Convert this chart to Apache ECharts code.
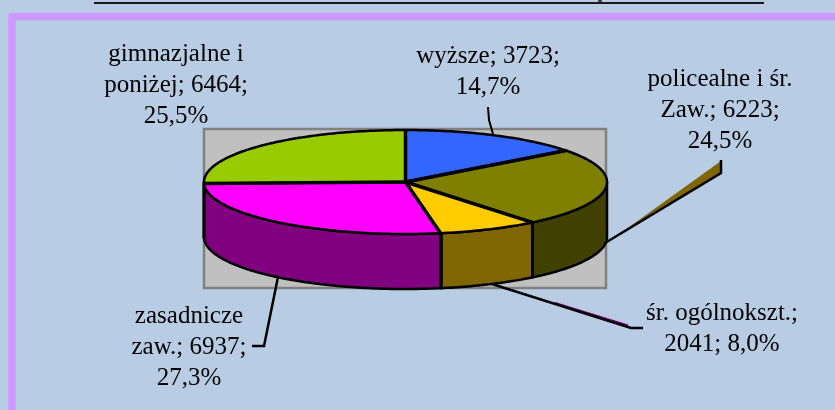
<!DOCTYPE html>
<html>
<head>
<meta charset="utf-8">
<title>wykształcenie</title>
<script src="https://cdn.jsdelivr.net/npm/echarts@6/dist/echarts.min.js"></script>
<style>
  html,body{margin:0;padding:0;background:#b8cce4;}
  #chart{width:835px;height:410px;}
</style>
</head>
<body>
<div id="chart"></div>
<script>
// dane
var categories = ['wyższe', 'policealne i śr.\nZaw.', 'śr. ogólnokszt.', 'zasadnicze\nzaw.', 'gimnazjalne i\nponiżej'];
var values = [3723, 6223, 2041, 6937, 6464];
var labelFormats = ['{n}; {v};\n{p}', '{n}; {v};\n{p}', '{n};\n{v}; {p}', '{n}; {v};\n{p}', '{n}; {v};\n{p}'];
var topColors = ['#3366ff', '#808000', '#ffcc00', '#ff00ff', '#99cc00'];
var sideColors = ['#1a3380', '#404000', '#806600', '#800080', '#4d6600'];

// uklad
var cx = 405.5, cy = 182, rx = 201.5, ry = 52, depth = 55;
var labelPos = [[488, 72], [720, 110], [722, 329], [189, 347], [176, 85]];
var font = '"Liberation Serif", serif';

var total = values.reduce(function (a, b) { return a + b; }, 0);
var cum = [0];
values.forEach(function (v, i) { cum.push(cum[i] + v / total * 360); });

function pt(deg, dy) {
  var a = deg * Math.PI / 180;
  return [cx + rx * Math.sin(a), cy - ry * Math.cos(a) + (dy || 0)];
}
function arc(from, to, dy) {
  var pts = [], n = Math.max(2, Math.ceil(Math.abs(to - from)));
  for (var i = 0; i <= n; i++) pts.push(pt(from + (to - from) * i / n, dy));
  return pts;
}
function labelText(i) {
  var pct = (values[i] / total * 100).toFixed(1).replace('.', ',') + '%';
  return labelFormats[i].replace('{n}', categories[i]).replace('{v}', values[i]).replace('{p}', pct);
}

var chart = echarts.init(document.getElementById('chart'));
chart.setOption({
  animation: false,
  backgroundColor: '#b8cce4',
  graphic: [
    // ramka
    { type: 'rect', z: 0, shape: { x: 12, y: 16.5, width: 1000, height: 600 }, style: { fill: 'none', stroke: '#cc99ff', lineWidth: 7.5, lineJoin: 'round' } },
    { type: 'line', z: 0, shape: { x1: 94, y1: 3, x2: 764, y2: 3 }, style: { stroke: '#1a1a1a', lineWidth: 2 } },
    { type: 'rect', z: 0, shape: { x: 598, y: 0, width: 4, height: 2 }, style: { fill: '#444' } },
    // tlo wykresu
    { type: 'rect', z: 0, shape: { x: 204, y: 129, width: 402, height: 159 }, style: { fill: '#c0c0c0', stroke: '#808080', lineWidth: 2.5 } },
    // linie odniesienia
    { type: 'polyline', z: 10, shape: { points: [[488, 107], [489, 120], [493, 134]] }, style: { stroke: '#000', lineWidth: 2, fill: 'none' } },
    { type: 'polygon', z: 10, shape: { points: [[721, 161], [721, 172], [606, 242], [625, 230]] }, style: { fill: '#806600' } },
    { type: 'polyline', z: 10, shape: { points: [[721, 160], [721, 173], [605, 243]] }, style: { stroke: '#000', lineWidth: 2.5, fill: 'none' } },
    { type: 'polyline', z: 10, shape: { points: [[555, 303], [628, 325.5]] }, style: { stroke: '#800080', lineWidth: 2, fill: 'none' } },
    { type: 'polyline', z: 10, shape: { points: [[492, 284], [631, 328], [643, 328]] }, style: { stroke: '#000', lineWidth: 2.5, fill: 'none' } },
    { type: 'polyline', z: 10, shape: { points: [[278, 277], [264, 346], [252, 346]] }, style: { stroke: '#000', lineWidth: 2.5, fill: 'none' } }
  ],
  series: [
    {
      // sciany boczne
      type: 'custom',
      coordinateSystem: 'none',
      z: 2,
      clip: false,
      data: values,
      renderItem: function (params) {
        var i = params.dataIndex;
        var a = Math.max(cum[i], 90), b = Math.min(cum[i + 1], 270);
        if (b <= a) return null;
        var pts = arc(a, b, 0).concat(arc(b, a, depth));
        var kids = [{ type: 'polygon', shape: { points: pts }, style: { fill: sideColors[i], stroke: '#000', lineWidth: 2.5, lineJoin: 'round' } }];
        if (b < 270) {
          var p = pt(b, 0), q = pt(b, depth);
          kids.push({ type: 'line', shape: { x1: p[0], y1: p[1], x2: q[0], y2: q[1] }, style: { stroke: '#000', lineWidth: i === 2 ? 4.5 : 3 } });
        }
        return { type: 'group', children: kids };
      }
    },
    {
      // wierzch
      type: 'custom',
      coordinateSystem: 'none',
      z: 3,
      clip: false,
      data: values,
      renderItem: function (params) {
        var i = params.dataIndex;
        var pts = [[cx, cy]].concat(arc(cum[i], cum[i + 1], 0));
        return { type: 'polygon', shape: { points: pts }, style: { fill: topColors[i], stroke: '#000', lineWidth: 2.5, lineJoin: 'round' } };
      }
    },
    {
      // promienie nad wierzchem
      type: 'custom',
      coordinateSystem: 'none',
      z: 4,
      clip: false,
      data: values,
      renderItem: function (params) {
        var e = pt(cum[params.dataIndex], 0);
        return { type: 'line', shape: { x1: cx, y1: cy, x2: e[0], y2: e[1] }, style: { stroke: '#000', lineWidth: 3.5 } };
      }
    },
    {
      // etykiety
      type: 'custom',
      coordinateSystem: 'none',
      z: 11,
      clip: false,
      data: values,
      renderItem: function (params) {
        var i = params.dataIndex;
        return {
          type: 'text',
          x: labelPos[i][0],
          y: labelPos[i][1],
          style: { text: labelText(i), fill: '#000', font: '25px ' + font, lineHeight: 31, align: 'center', verticalAlign: 'middle' }
        };
      }
    }
  ]
});
</script>
</body>
</html>
